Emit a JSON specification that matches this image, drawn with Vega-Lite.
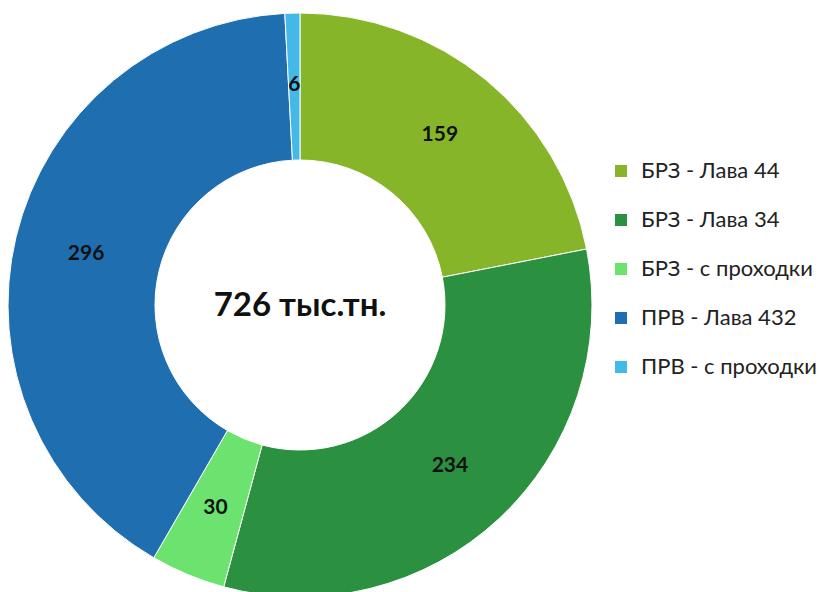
{
  "$schema": "https://vega.github.io/schema/vega-lite/v6.json",
  "width": 600,
  "height": 610,
  "autosize": {"type": "none"},
  "padding": {"left": 0, "top": 0, "right": 222, "bottom": 0},
  "background": "white",
  "config": {"view": {"stroke": null}, "font": "Lato"},
  "layer": [
    {
      "data": {"values": [
        {"cat": "БРЗ - Лава 44", "v": 159, "o": 1},
        {"cat": "БРЗ - Лава 34", "v": 234, "o": 2},
        {"cat": "БРЗ - с проходки", "v": 30, "o": 3},
        {"cat": "ПРВ - Лава 432", "v": 296, "o": 4},
        {"cat": "ПРВ - с проходки", "v": 6, "o": 5}
      ]},
      "layer": [
        {
          "mark": {"type": "arc", "outerRadius": 292, "innerRadius": 145, "stroke": "white", "strokeWidth": 1},
          "encoding": {
            "theta": {"field": "v", "type": "quantitative", "stack": true},
            "order": {"field": "o", "type": "quantitative"},
            "color": {
              "field": "cat", "type": "nominal",
              "scale": {
                "domain": ["БРЗ - Лава 44", "БРЗ - Лава 34", "БРЗ - с проходки", "ПРВ - Лава 432", "ПРВ - с проходки"],
                "range": ["#86b52a", "#2b9040", "#6be36e", "#1f6fb0", "#45b8ea"]
              },
              "legend": {
                "title": null,
                "orient": "none",
                "legendX": 610,
                "legendY": 160,
                "symbolType": "square",
                "symbolSize": 144,
                "symbolStrokeWidth": 0,
                "labelFontSize": 22,
                "labelColor": "#222222",
                "labelOffset": 9,
                "labelLimit": 0,
                "rowPadding": 27,
                "labelFont": "Lato"
              }
            }
          }
        },
        {
          "mark": {"type": "text", "radius": 220, "fontSize": 21, "fontWeight": "bold", "color": "#111111", "font": "Lato"},
          "encoding": {
            "theta": {"field": "v", "type": "quantitative", "stack": true},
            "order": {"field": "o", "type": "quantitative"},
            "text": {"field": "v", "type": "quantitative"}
          }
        }
      ]
    },
    {
      "data": {"values": [{"t": "726 тыс.тн."}]},
      "mark": {"type": "text", "fontSize": 33, "fontWeight": "bold", "color": "#111111", "font": "Lato", "dy": 1},
      "encoding": {"text": {"field": "t", "type": "nominal"}}
    }
  ]
}
